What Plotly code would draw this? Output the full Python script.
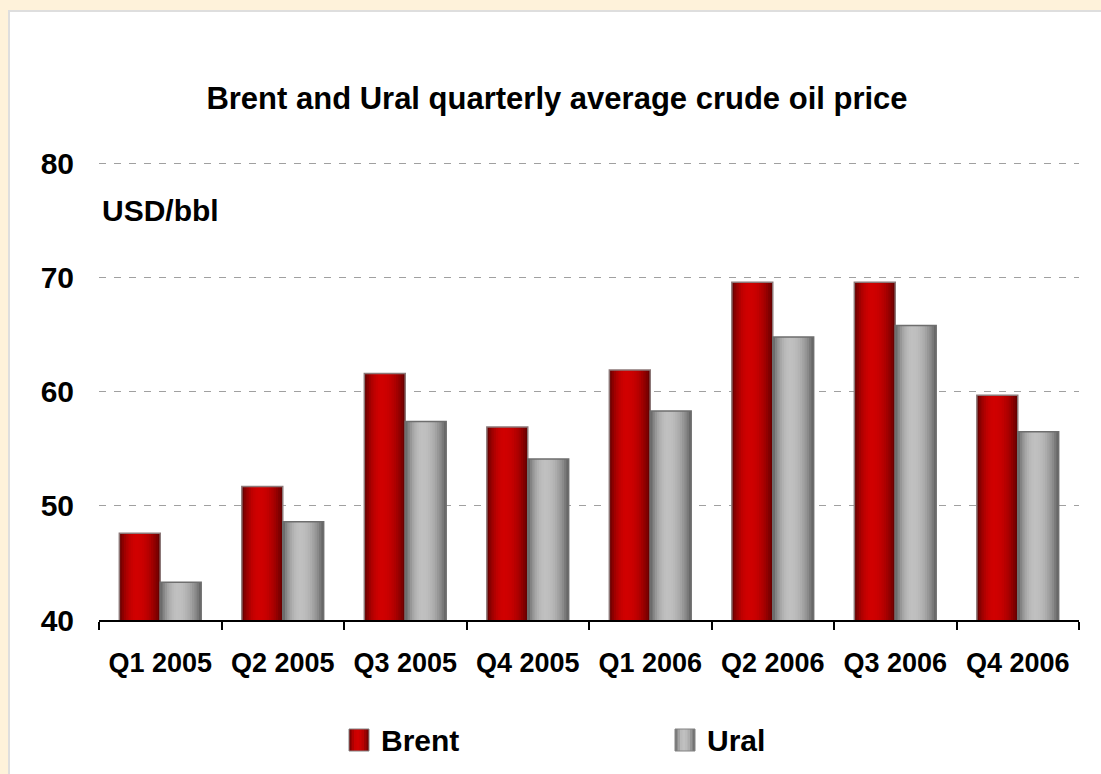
import plotly.graph_objects as go

# ---- data ----
quarters = ["Q1 2005", "Q2 2005", "Q3 2005", "Q4 2005", "Q1 2006", "Q2 2006", "Q3 2006", "Q4 2006"]
brent = [47.6, 51.7, 61.6, 56.9, 61.9, 69.6, 69.6, 59.7]
ural = [43.3, 48.6, 57.4, 54.1, 58.3, 64.8, 65.8, 56.5]
series_names = ["Brent", "Ural"]
y_ticks = [40, 50, 60, 70, 80]

# ---- layout geometry ----
W, H = 1101, 774
ML, MR, MT, MB = 99, 22, 152, 154
PW, PH = W - ML - MR, H - MT - MB
Y_RANGE = [40, 81]
FONT = "Liberation Sans, Arial, sans-serif"

BAR_W = 0.334   # width of one bar, in category units
N_STRIPS = 18


def lerp(c1, c2, f):
    return "rgb(%d,%d,%d)" % tuple(round(a + (b - a) * f) for a, b in zip(c1, c2))


def profile(u):
    # brightness profile across a cylinder-like bar (0 = dark, 1 = bright)
    d = (u - 0.42) / (0.58 if u > 0.42 else 0.42)
    return max(0.0, 1 - d * d) ** 0.9


DARK_RED, BRIGHT_RED = (92, 0, 0), (208, 0, 0)
DARK_GRAY, BRIGHT_GRAY = (92, 92, 92), (192, 192, 192)

fig = go.Figure()

specs = [
    (brent, -BAR_W, DARK_RED, BRIGHT_RED, "rgb(140,120,120)"),
    (ural, 0.0, DARK_GRAY, BRIGHT_GRAY, "rgb(110,110,110)"),
]
for vals, start, dark, bright, edge in specs:
    s = BAR_W / N_STRIPS
    end = start + BAR_W
    for i in range(N_STRIPS):
        off = start + i * s
        wdt = min(s * 1.6, end - off)
        u = (i + 0.5) / N_STRIPS
        fig.add_trace(go.Bar(
            x=quarters, y=vals, offset=off, width=wdt,
            marker=dict(color=lerp(dark, bright, profile(u)), line=dict(width=0)),
            showlegend=False, hoverinfo="skip",
        ))
    fig.add_trace(go.Bar(
        x=quarters, y=vals, offset=start, width=BAR_W,
        marker=dict(color="rgba(0,0,0,0)", line=dict(color=edge, width=1.5)),
        showlegend=False,
    ))


def px_x(px):
    return (px - ML) / PW


def px_y(py):
    return (H - MB - py) / PH


shapes = [
    # white panel over the beige page
    dict(type="rect", xref="paper", yref="paper", layer="below",
         x0=px_x(9), x1=px_x(1110), y0=px_y(790), y1=px_y(11),
         fillcolor="white", line=dict(color="rgb(222,222,222)", width=2)),
]

# manual legend
legend_items = [
    (349, series_names[0], DARK_RED, BRIGHT_RED),
    (675, series_names[1], DARK_GRAY, BRIGHT_GRAY),
]
annotations = []
for lx, name, dark, bright in legend_items:
    n = 8
    sw = 20 / n
    for i in range(n):
        u = (i + 0.5) / n
        shapes.append(dict(type="rect", xref="paper", yref="paper",
                           x0=px_x(lx + i * sw), x1=px_x(lx + min((i + 1.5) * sw, 20)),
                           y0=px_y(751), y1=px_y(729),
                           fillcolor=lerp(dark, bright, profile(u)), line=dict(width=0)))
    shapes.append(dict(type="rect", xref="paper", yref="paper",
                       x0=px_x(lx), x1=px_x(lx + 20), y0=px_y(751), y1=px_y(729),
                       fillcolor="rgba(0,0,0,0)", line=dict(color="rgb(130,130,130)", width=1)))
    annotations.append(dict(xref="paper", yref="paper", x=px_x(lx + 30), y=px_y(740),
                            xanchor="left", yanchor="middle", showarrow=False, text=name,
                            font=dict(family=FONT, size=30, color="black", weight="bold")))

annotations.append(dict(xref="paper", yref="paper", x=px_x(100), y=px_y(210),
                        xanchor="left", yanchor="middle", showarrow=False, text="USD/bbl",
                        font=dict(family=FONT, size=30, color="black", weight="bold")))

fig.update_layout(
    template="none",
    width=W, height=H,
    margin=dict(l=ML, r=MR, t=MT, b=MB, pad=0),
    paper_bgcolor="rgb(254,242,218)",
    plot_bgcolor="rgba(0,0,0,0)",
    barmode="overlay",
    showlegend=False,
    title=dict(text="Brent and Ural quarterly average crude oil price",
               x=557 / W, xref="container", xanchor="center",
               y=1 - 98 / H, yref="container", yanchor="middle",
               font=dict(family=FONT, size=31, color="black", weight="bold")),
    xaxis=dict(
        type="category", range=[-0.5, len(quarters) - 0.5],
        showline=True, linecolor="black", linewidth=1.5,
        ticks="outside", tickson="boundaries", ticklen=8, tickwidth=1.5, tickcolor="black",
        showgrid=False, zeroline=False, ticklabelstandoff=18,
        tickfont=dict(family=FONT, size=27, color="black", weight="bold"),
        automargin=False,
    ),
    yaxis=dict(
        range=Y_RANGE, tickvals=y_ticks, ticktext=[str(v) for v in y_ticks],
        showline=False, ticks="", zeroline=False,
        showgrid=True, gridcolor="rgb(160,160,160)", gridwidth=1.2, griddash="7px,8px",
        ticklabelstandoff=24,
        tickfont=dict(family=FONT, size=30, color="black", weight="bold"),
        automargin=False,
    ),
    shapes=shapes,
    annotations=annotations,
)

fig.write_html("out.html", config={"displayModeBar": False},
               post_script="document.body.style.margin='0px';")
